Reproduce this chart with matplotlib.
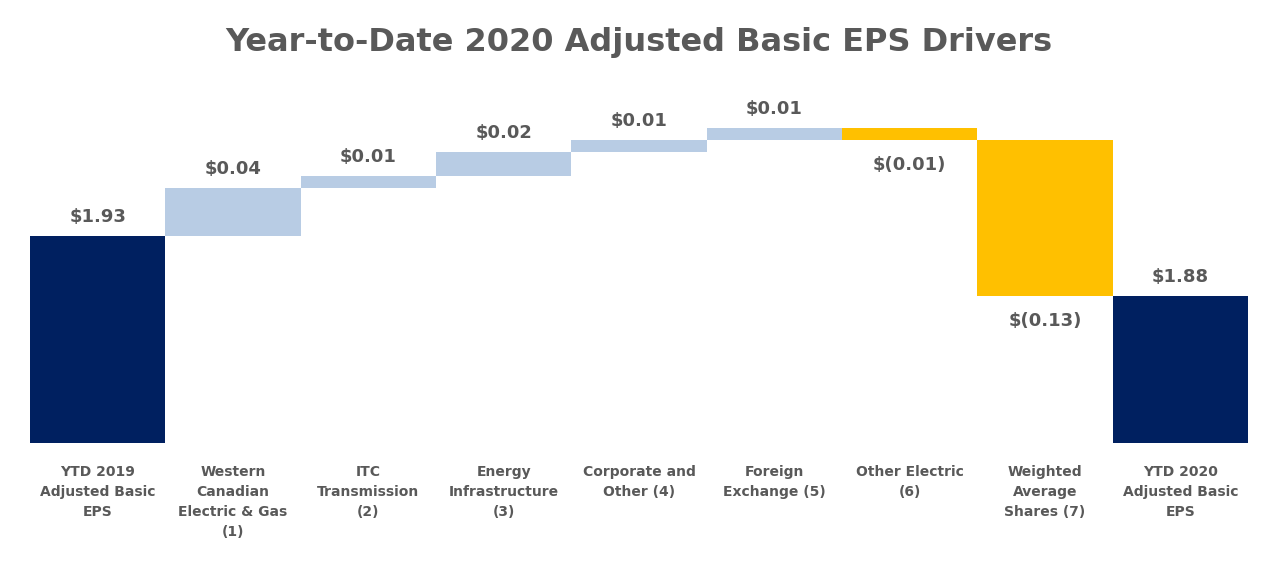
#
# Waterfall chart of the YTD 2020 adjusted basic EPS drivers
#

import numpy as np
from matplotlib import pyplot as plt

# Categories, values (in $) and bar kinds
categories = ["YTD 2019\nAdjusted Basic\nEPS",
              "Western\nCanadian\nElectric & Gas\n(1)",
              "ITC\nTransmission\n(2)",
              "Energy\nInfrastructure\n(3)",
              "Corporate and\nOther (4)",
              "Foreign\nExchange (5)",
              "Other Electric\n(6)",
              "Weighted\nAverage\nShares (7)",
              "YTD 2020\nAdjusted Basic\nEPS"]
values = [1.93, 0.04, 0.01, 0.02, 0.01, 0.01, -0.01, -0.13, 1.88]
value_labels = ["$1.93", "$0.04", "$0.01", "$0.02", "$0.01", "$0.01",
                "$(0.01)", "$(0.13)", "$1.88"]
is_total = [True, False, False, False, False, False, False, False, True]

navy = "#002060"
light_blue = "#B8CCE4"
gold = "#FFC000"
grey = "#595959"

# Base of the y axis (the chart is not zero-based)
y_floor = 1.7575

fig = plt.figure(figsize=(12.78, 5.68), dpi=100)
ax = fig.add_axes([30 / 1278, 1 - 443 / 568, 1218 / 1278, 363 / 568])

x = np.arange(len(values))
running = 0.0
for i, v in enumerate(values):
    if is_total[i]:
        bottom, height, color = y_floor, v - y_floor, navy
        running = v
    else:
        bottom = running if v >= 0 else running + v
        height = abs(v)
        color = light_blue if v >= 0 else gold
        running += v
    ax.bar(x[i], height, bottom=bottom, width=1.0, color=color, linewidth=0)
    top = bottom + height
    if v >= 0:
        ax.text(x[i], top + 0.008, value_labels[i], ha="center", va="bottom",
                fontsize=13, fontweight="bold", color=grey)
    else:
        ax.text(x[i], bottom - 0.013, value_labels[i], ha="center", va="top",
                fontsize=13, fontweight="bold", color=grey)

ax.set_xlim(-0.5, len(values) - 0.5)
ax.set_ylim(y_floor, y_floor + 363 / 1200)
ax.set_xticks(x)
ax.set_xticklabels(categories, fontsize=10, fontweight="bold", color=grey,
                   linespacing=1.55)
ax.tick_params(axis="x", length=0, pad=16)
ax.set_yticks([])
for s in ax.spines.values():
    s.set_visible(False)

fig.text(0.5, 1 - 42 / 568, "Year-to-Date 2020 Adjusted Basic EPS Drivers",
         ha="center", va="center", fontsize=23, fontweight="bold", color=grey)

plt.savefig("out.png", dpi=100)
